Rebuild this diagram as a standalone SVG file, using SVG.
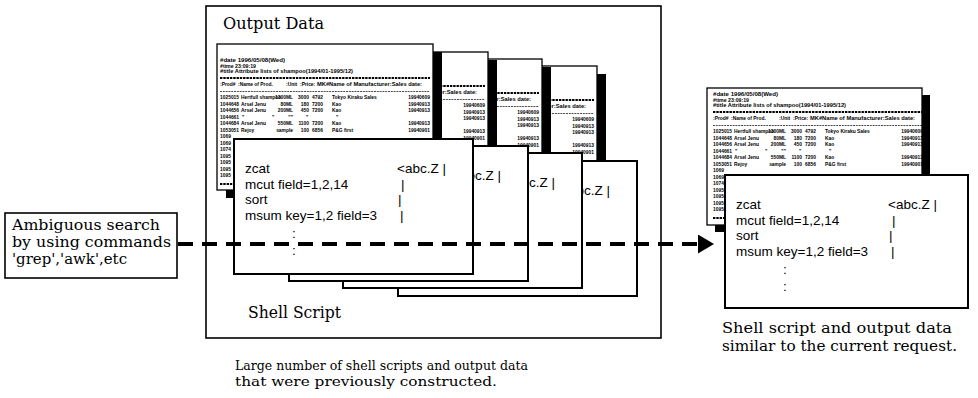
<svg xmlns="http://www.w3.org/2000/svg" width="978" height="398" viewBox="0 0 978 398">
<style>
.serif{font-family:"DejaVu Serif","Liberation Serif",serif;fill:#000}
.tiny{font-family:"Liberation Sans",Arial,sans-serif;font-size:4.9px;font-weight:bold;fill:#000}
.end{text-anchor:end}
.cmd{font-family:"Liberation Sans",Arial,sans-serif;font-size:13.5px;fill:#000}
.frame{fill:#fff;stroke:#000;stroke-width:1.6}
.sheet{fill:#fff;stroke:#000;stroke-width:1.3}
.shadow{fill:#000}
.script{fill:#fff;stroke:#000;stroke-width:2}
.eq{stroke:#000;stroke-width:2.2;stroke-dasharray:2.4 0.9}
.rule{stroke:#000;stroke-width:0.7;stroke-dasharray:2 0.8}
.flow{fill:none;stroke:#000;stroke-width:4;stroke-dasharray:15 9}
</style>
<defs>
  <marker id="head" markerUnits="userSpaceOnUse" markerWidth="17" markerHeight="19" refX="0" refY="9.5" orient="auto">
    <path d="M0,0 L16,9.5 L0,19 Z" fill="#000"/>
  </marker>

  <!-- printed result listing, origin at the baseline of the first line -->
  <g id="table">
    <text class="tiny" y="0" textLength="65" lengthAdjust="spacingAndGlyphs">#date 1996/05/08(Wed)</text>
    <text class="tiny" y="5.5" textLength="36" lengthAdjust="spacingAndGlyphs">#time 23:09:19</text>
    <text class="tiny" y="11" textLength="133" lengthAdjust="spacingAndGlyphs">#title Attribute lists of shampoo(1994/01-1995/12)</text>
    <line class="eq" x1="0" x2="210" y1="16" y2="16"/>
    <text class="tiny" y="23.5">:Prod#</text>
    <text class="tiny" x="18" y="23.5">:Name of Prod.</text>
    <text class="tiny" x="66" y="23.5">:Unit</text>
    <text class="tiny" x="80" y="23.5">:Price:</text>
    <text class="tiny" x="97" y="23.5" textLength="105" lengthAdjust="spacingAndGlyphs">MK#Name of Manufacturer:Sales date:</text>
    <line class="rule" x1="0" x2="210" y1="29.5" y2="29.5"/>

    <text class="tiny" y="37">1025015</text>
    <text class="tiny" x="21" y="37">Hertfull shampoo</text>
    <text class="tiny end" x="73" y="37">1300ML</text>
    <text class="tiny end" x="89" y="37">3000</text>
    <text class="tiny" x="92" y="37">4792</text>
    <text class="tiny" x="112" y="37">Tokyo Kiraku Sales</text>
    <text class="tiny end" x="210" y="37">19940609</text>

    <text class="tiny" y="43.5">1044648</text>
    <text class="tiny" x="21" y="43.5">Arsel Jenu</text>
    <text class="tiny end" x="73" y="43.5">80ML</text>
    <text class="tiny end" x="89" y="43.5">180</text>
    <text class="tiny" x="92" y="43.5">7200</text>
    <text class="tiny" x="112" y="43.5">Kao</text>
    <text class="tiny end" x="210" y="43.5">19940913</text>

    <text class="tiny" y="50">1044656</text>
    <text class="tiny" x="21" y="50">Arsel Jenu</text>
    <text class="tiny end" x="73" y="50">200ML</text>
    <text class="tiny end" x="89" y="50">450</text>
    <text class="tiny" x="92" y="50">7200</text>
    <text class="tiny" x="112" y="50">Kao</text>
    <text class="tiny end" x="210" y="50">19940913</text>

    <text class="tiny" y="56.5">1044661</text>
    <text class="tiny" x="22" y="56.5">"</text>
    <text class="tiny" x="52" y="56.5">"</text>
    <text class="tiny end" x="73" y="56.5">""</text>
    <text class="tiny" x="86" y="56.5">"</text>
    <text class="tiny" x="116" y="56.5">"</text>

    <text class="tiny" y="63">1044684</text>
    <text class="tiny" x="21" y="63">Arsel Jenu</text>
    <text class="tiny end" x="73" y="63">550ML</text>
    <text class="tiny end" x="89" y="63">1100</text>
    <text class="tiny" x="92" y="63">7200</text>
    <text class="tiny" x="112" y="63">Kao</text>
    <text class="tiny end" x="210" y="63">19940913</text>

    <text class="tiny" y="69.5">1053051</text>
    <text class="tiny" x="21" y="69.5">Rejoy</text>
    <text class="tiny end" x="73" y="69.5">sample</text>
    <text class="tiny end" x="89" y="69.5">100</text>
    <text class="tiny" x="92" y="69.5">6856</text>
    <text class="tiny" x="112" y="69.5">P&amp;G first</text>
    <text class="tiny end" x="210" y="69.5">19940901</text>

    <text class="tiny" y="76">1069</text>
    <text class="tiny" y="82.5">1069</text>
    <text class="tiny" y="89">1074</text>
    <text class="tiny" y="95.5">1095</text>
    <text class="tiny" y="102">1095</text>
    <text class="tiny" y="108.5">1095</text>
    <text class="tiny" y="115">1095</text>
    <line class="eq" x1="0" x2="210" y1="122" y2="122"/>
  </g>

  <!-- one output sheet with its drop shadow -->
  <g id="sheetL">
    <rect class="shadow" x="9" y="8" width="216" height="146"/>
    <rect class="sheet" width="216" height="146"/>
    <use href="#table" x="3" y="18"/>
  </g>

  <!-- shell script text -->
  <g id="cmds" class="cmd">
    <text x="11" y="34">zcat</text>
    <text x="163" y="34">&lt;abc.Z |</text>
    <text x="11" y="49.5">mcut field=1,2,14</text>
    <text x="167" y="49.5">|</text>
    <text x="11" y="65">sort</text>
    <text x="164" y="65">|</text>
    <text x="11" y="80.5">msum key=1,2 field=3</text>
    <text x="166" y="80.5">|</text>
    <text x="58" y="99">:</text>
    <text x="58" y="116">:</text>
  </g>

  <g id="scriptCard">
    <rect class="script" width="239" height="135"/>
    <use href="#cmds"/>
  </g>
</defs>

<!-- query node -->
<g id="query">
  <rect x="5" y="213" width="172" height="65" fill="#fff" stroke="#000" stroke-width="1.6"/>
  <text class="serif" x="12" y="230" font-size="15.5" textLength="148" lengthAdjust="spacingAndGlyphs">Ambiguous search</text>
  <text class="serif" x="12" y="247" font-size="15.5" textLength="159" lengthAdjust="spacingAndGlyphs">by using commands</text>
  <text class="serif" x="12" y="264" font-size="15.5" textLength="115" lengthAdjust="spacingAndGlyphs">'grep','awk',etc</text>
</g>

<!-- archive of stored scripts and their outputs -->
<g id="archive">
  <rect class="frame" x="206" y="6" width="455" height="332"/>
  <text class="serif" x="223" y="29" font-size="17" textLength="101" lengthAdjust="spacingAndGlyphs">Output Data</text>

  <use href="#sheetL" x="381" y="66"/>
  <use href="#sheetL" x="326" y="59"/>
  <use href="#sheetL" x="272" y="52"/>
  <use href="#sheetL" x="217" y="44"/>

  <use href="#scriptCard" x="398" y="161"/>
  <use href="#scriptCard" x="343" y="153"/>
  <use href="#scriptCard" x="289" y="146"/>
  <use href="#scriptCard" x="234" y="139"/>

  <text class="serif" x="248" y="318" font-size="17" textLength="93" lengthAdjust="spacingAndGlyphs">Shell Script</text>
</g>
<g id="archive-caption">
  <text class="serif" x="235" y="370" font-size="13.5" textLength="293" lengthAdjust="spacingAndGlyphs">Large number of shell scripts and output data</text>
  <text class="serif" x="235" y="386" font-size="13.5" textLength="262" lengthAdjust="spacingAndGlyphs">that were previously constructed.</text>
</g>

<!-- matching result -->
<g id="result">
  <rect class="shadow" x="715" y="95" width="215" height="137"/>
  <rect class="sheet" x="707" y="88" width="215" height="137"/>
  <use href="#table" x="713" y="96"/>
  <rect class="script" x="725" y="175" width="243" height="133"/>
  <use href="#cmds" x="725" y="175"/>
  <text class="serif" x="722" y="333" font-size="15.5" textLength="230" lengthAdjust="spacingAndGlyphs">Shell script and output data</text>
  <text class="serif" x="722" y="351" font-size="15.5" textLength="235" lengthAdjust="spacingAndGlyphs">similar to the current request.</text>
</g>

<!-- connectors -->
<g id="connectors">
  <line class="flow" x1="178" y1="244" x2="698" y2="244" marker-end="url(#head)"/>
</g>
</svg>
